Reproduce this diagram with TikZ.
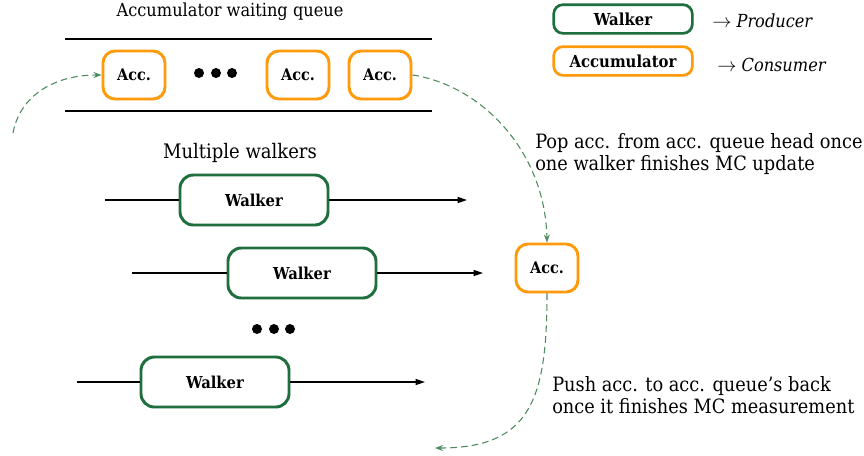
\documentclass[tikz,border=0pt]{standalone}
\usepackage{fontspec}
\setmainfont{DejaVu Serif Condensed}
\usetikzlibrary{arrows.meta,shadows}
\definecolor{accorange}{HTML}{FF9A0A}
\definecolor{walkgreen}{HTML}{1E6E3E}
\definecolor{dashgreen}{HTML}{4E8A60}
\tikzset{
  boxshadow/.style={drop shadow={shadow xshift=0.8pt,shadow yshift=-0.8pt,opacity=0.18,fill=black}},
  accbox/.style={draw=accorange,line width=2.2pt,rounded corners=9pt,fill=white,boxshadow,
    minimum width=46.5pt,minimum height=36pt,inner sep=0pt,font=\fontsize{12pt}{14pt}\selectfont\bfseries},
  walkbox/.style={draw=walkgreen,line width=2.2pt,rounded corners=10pt,fill=white,boxshadow,
    minimum width=111pt,minimum height=37.5pt,inner sep=0pt,font=\fontsize{12.3pt}{14pt}\selectfont\bfseries},
  legwalk/.style={draw=walkgreen,line width=2pt,rounded corners=7pt,fill=white,boxshadow,
    minimum width=104pt,minimum height=21.5pt,inner sep=0pt,font=\fontsize{12.4pt}{14pt}\selectfont\bfseries},
  legacc/.style={legwalk,draw=accorange},
  plain/.style={font=\fontsize{13.5pt}{16.5pt}\selectfont,inner sep=0pt},
  bigplain/.style={font=\fontsize{14.8pt}{16pt}\selectfont,inner sep=0pt},
  flow/.style={line width=0.8pt,-{Triangle[length=7pt,width=4.5pt]}},
  qline/.style={line width=1.7pt},
  dashflow/.style={draw=dashgreen,line width=0.8pt,dash pattern=on 5pt off 3pt,-{Stealth[length=6pt,width=4.5pt,open]}},
  dot/.style={circle,fill=black,inner sep=0pt,minimum size=7.5pt},
}
\begin{document}
\begin{tikzpicture}[x=0.75pt,y=-0.75pt]
\useasboundingbox (0,0) rectangle (864,455);
% title
\node[plain] (title) at (230,12) {Accumulator waiting queue};
% queue lines
\coordinate (qtl) at (65,39); \coordinate (qtr) at (432,39);
\coordinate (qbl) at (65,111); \coordinate (qbr) at (432,111);
\draw[qline] (qtl) -- (qtr);
\draw[qline] (qbl) -- (qbr);
% queue accs
\node[accbox] (acc1) at (134,75) {Acc.};
\node[accbox] (acc2) at (298,75) {Acc.};
\node[accbox] (acc3) at (380,75) {Acc.};
\node[dot] (qd1) at (199,73) {};
\node[dot] (qd2) at (216,73) {};
\node[dot] (qd3) at (232,73) {};
% legend
\node[legwalk] (lw) at (623,19) {Walker};
\node[legacc] (la) at (623,61) {Accumulator};
\node[plain,anchor=west] (lp) at (712,21) {$\rightarrow$ \textit{Producer}};
\node[plain,anchor=west] (lc) at (717,65) {$\rightarrow$ \textit{Consumer}};
% walkers
\node[font=\fontsize{15pt}{16pt}\selectfont,inner sep=0pt] (mw) at (240,153) {Multiple walkers};
\coordinate (w1s) at (105,200); \coordinate (w1e) at (467,200);
\coordinate (w2s) at (132,273); \coordinate (w2e) at (483,273);
\coordinate (w3s) at (77,382);  \coordinate (w3e) at (425,382);
\node[walkbox] (w1) at (254,200) {Walker};
\node[walkbox] (w2) at (302,273) {Walker};
\node[walkbox] (w3) at (215,382) {Walker};
\draw[line width=0.8pt] (w1s) -- (w1.west);
\draw[flow] (w1.east) -- (w1e);
\draw[line width=0.8pt] (w2s) -- (w2.west);
\draw[flow] (w2.east) -- (w2e);
\draw[line width=0.8pt] (w3s) -- (w3.west);
\draw[flow] (w3.east) -- (w3e);
\node[dot] (wd1) at (257,329) {};
\node[dot] (wd2) at (274,329) {};
\node[dot] (wd3) at (290,329) {};
% middle acc
\node[accbox] (accm) at (547,268) {Acc.};
% texts
\node[bigplain,anchor=west,align=left] (pop) at (535,154) {Pop acc. from acc. queue head once\\one walker finishes MC update};
\node[bigplain,anchor=west,align=left] (push) at (552,395) {Push acc. to acc. queue’s back\\once it finishes MC measurement};
% dashed flows
\coordinate (back) at (435,448);
\coordinate (loopstart) at (13,133);
\draw[dashflow] (acc3.east) .. controls (480,85) and (545,150) .. (accm.north);
\draw[dashflow] (accm.south) .. controls (547,400) and (530,448) .. (back);
\draw[dashflow] (loopstart) .. controls (20,95) and (55,75) .. (acc1.west);
\end{tikzpicture}
\end{document}
